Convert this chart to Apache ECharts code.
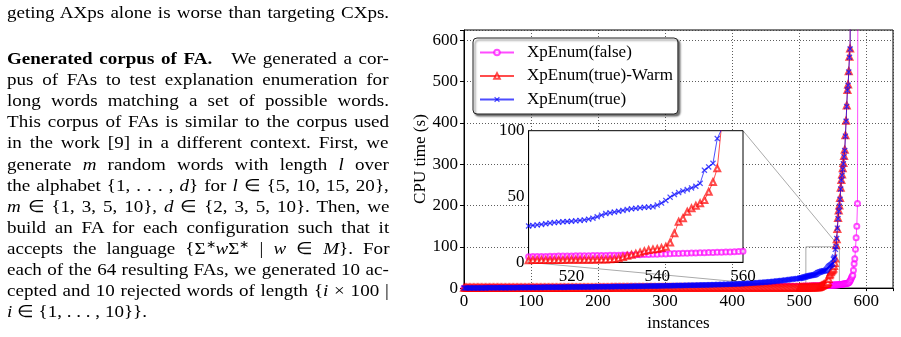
<!DOCTYPE html>
<html>
<head>
<meta charset="utf-8">
<script src="https://cdn.jsdelivr.net/npm/echarts@6.0.0/dist/echarts.min.js"></script>
<style>
  html, body { margin: 0; padding: 0; background: #fff; }
  #page { position: relative; width: 901px; height: 337px; overflow: hidden; }
  #chart { position: absolute; left: 0; top: 0; width: 901px; height: 337px; }
  .ln { position: absolute; left: 7px; white-space: nowrap; font-family: 'Liberation Serif', 'Times New Roman', serif;
        font-size: 17px; line-height: 20px; color: #000; transform-origin: 0 0; transform: scaleX(1.12); }
  .ln sup { font-size: 11px; line-height: 0; vertical-align: 6px; }
</style>
</head>
<body>
<div id="page">
  <div id="chart"></div>
  <div class="ln j" style="top:3px">geting AXps alone is worse than targeting CXps.</div>
  <div class="ln j" style="top:49px"><b>Generated corpus of FA.</b>&emsp;We generated a cor-</div>
  <div class="ln j" style="top:70px">pus of FAs to test explanation enumeration for</div>
  <div class="ln j" style="top:91px">long words matching a set of possible words.</div>
  <div class="ln j" style="top:112px">This corpus of FAs is similar to the corpus used</div>
  <div class="ln j" style="top:133px">in the work [9] in a different context. First, we</div>
  <div class="ln j" style="top:154.5px">generate <i>m</i> random words with length <i>l</i> over</div>
  <div class="ln j" style="top:175.5px">the alphabet {1, . . . , <i>d</i>} for <i>l</i> ∈ {5, 10, 15, 20},</div>
  <div class="ln j" style="top:196.5px"><i>m</i> ∈ {1, 3, 5, 10}, <i>d</i> ∈ {2, 3, 5, 10}. Then, we</div>
  <div class="ln j" style="top:217.5px">build an FA for each configuration such that it</div>
  <div class="ln j" style="top:238.5px">accepts the language {Σ<sup>∗</sup><i>w</i>Σ<sup>∗</sup> | <i>w</i> ∈ <i>M</i>}. For</div>
  <div class="ln j" style="top:260px">each of the 64 resulting FAs, we generated 10 ac-</div>
  <div class="ln j" style="top:281px">cepted and 10 rejected words of length {<i>i</i> × 100 |</div>
  <div class="ln" style="top:302px"><i>i</i> ∈ {1, . . . , 10}}.</div>
</div>
<script>
// instance positions: every 2nd one in the flat part, one by one near the knee
const instances = [
  0, 2, 4, 6, 8, 10, 12, 14, 16, 18, 20, 22, 24, 26, 28, 30, 32, 34, 36, 38, 40, 42, 44, 46, 48,
  50, 52, 54, 56, 58, 60, 62, 64, 66, 68, 70, 72, 74, 76, 78, 80, 82, 84, 86, 88, 90, 92, 94, 96, 98,
  100, 102, 104, 106, 108, 110, 112, 114, 116, 118, 120, 122, 124, 126, 128, 130, 132, 134, 136, 138, 140, 142, 144, 146, 148,
  150, 152, 154, 156, 158, 160, 162, 164, 166, 168, 170, 172, 174, 176, 178, 180, 182, 184, 186, 188, 190, 192, 194, 196, 198,
  200, 202, 204, 206, 208, 210, 212, 214, 216, 218, 220, 222, 224, 226, 228, 230, 232, 234, 236, 238, 240, 242, 244, 246, 248,
  250, 252, 254, 256, 258, 260, 262, 264, 266, 268, 270, 272, 274, 276, 278, 280, 282, 284, 286, 288, 290, 292, 294, 296, 298,
  300, 302, 304, 306, 308, 310, 312, 314, 316, 318, 320, 322, 324, 326, 328, 330, 332, 334, 336, 338, 340, 342, 344, 346, 348,
  350, 352, 354, 356, 358, 360, 362, 364, 366, 368, 370, 372, 374, 376, 378, 380, 382, 384, 386, 388, 390, 392, 394, 396, 398,
  400, 402, 404, 406, 408, 410, 412, 414, 416, 418, 420, 422, 424, 426, 428, 430, 432, 434, 436, 438, 440, 442, 444, 446, 448,
  450, 452, 454, 456, 458, 460, 462, 464, 466, 468, 470, 472, 474, 476, 478, 480, 482, 484, 486, 488, 490, 492, 494, 496, 498,
  500, 501, 502, 503, 504, 505, 506, 507, 508, 509,
  510, 511, 512, 513, 514, 515, 516, 517, 518, 519,
  520, 521, 522, 523, 524, 525, 526, 527, 528, 529,
  530, 531, 532, 533, 534, 535, 536, 537, 538, 539,
  540, 541, 542, 543, 544, 545, 546, 547, 548, 549,
  550, 551, 552, 553, 554, 555, 556, 557, 558, 559,
  560, 561, 562, 563, 564, 565, 566, 567, 568, 569,
  570, 571, 572, 573, 574, 575, 576, 577, 578, 579,
  580, 581, 582, 583, 584, 585, 586, 587, 588, 589, 590
];

// CPU time (s) of each run, sorted (XpEnum(false))
const falseTimes = [
  0.3, 0.3, 0.3, 0.3, 0.4, 0.4, 0.4, 0.4, 0.4, 0.5, 0.5, 0.5, 0.5, 0.5, 0.5, 0.6, 0.6, 0.6, 0.6, 0.6, 0.6, 0.7, 0.7, 0.7, 0.7,
  0.7, 0.7, 0.7, 0.8, 0.8, 0.8, 0.8, 0.8, 0.8, 0.8, 0.9, 0.9, 0.9, 0.9, 0.9, 0.9, 0.9, 0.9, 1.0, 1.0, 1.0, 1.0, 1.0, 1.0, 1.0,
  1.0, 1.0, 1.1, 1.1, 1.1, 1.1, 1.1, 1.1, 1.2, 1.2, 1.2, 1.2, 1.2, 1.2, 1.3, 1.3, 1.3, 1.3, 1.3, 1.3, 1.4, 1.4, 1.4, 1.4, 1.4,
  1.5, 1.5, 1.5, 1.5, 1.5, 1.5, 1.5, 1.6, 1.6, 1.6, 1.6, 1.6, 1.6, 1.6, 1.6, 1.7, 1.7, 1.7, 1.7, 1.7, 1.7, 1.7, 1.7, 1.7, 1.7,
  1.7, 1.7, 1.8, 1.8, 1.8, 1.8, 1.8, 1.8, 1.8, 1.9, 1.9, 1.9, 1.9, 1.9, 1.9, 1.9, 2.0, 2.0, 2.0, 2.0, 2.0, 2.0, 2.0, 2.1, 2.1,
  2.1, 2.1, 2.1, 2.1, 2.1, 2.2, 2.2, 2.2, 2.2, 2.2, 2.2, 2.2, 2.3, 2.3, 2.3, 2.3, 2.3, 2.3, 2.3, 2.3, 2.3, 2.3, 2.3, 2.3, 2.3,
  2.4, 2.4, 2.4, 2.4, 2.4, 2.4, 2.4, 2.5, 2.5, 2.5, 2.5, 2.5, 2.5, 2.5, 2.6, 2.6, 2.6, 2.6, 2.6, 2.6, 2.6, 2.7, 2.7, 2.7, 2.7,
  2.7, 2.7, 2.7, 2.7, 2.8, 2.8, 2.8, 2.8, 2.8, 2.8, 2.8, 2.9, 2.9, 2.9, 2.9, 2.9, 2.9, 2.9, 3.0, 3.0, 3.0, 3.0, 3.0, 3.0, 3.0,
  3.0, 3.0, 3.1, 3.1, 3.1, 3.1, 3.1, 3.1, 3.2, 3.2, 3.2, 3.2, 3.2, 3.2, 3.3, 3.3, 3.3, 3.3, 3.3, 3.3, 3.3, 3.4, 3.4, 3.4, 3.4,
  3.4, 3.4, 3.4, 3.5, 3.5, 3.5, 3.5, 3.6, 3.6, 3.6, 3.6, 3.7, 3.7, 3.7, 3.7, 3.8, 3.8, 3.8, 3.8, 3.9, 3.9, 3.9, 3.9, 4.0, 4.0,
  4.0, 4.0, 4.0, 4.1, 4.1, 4.1, 4.2, 4.2, 4.2, 4.3,
  4.3, 4.4, 4.4, 4.5, 4.5, 4.6, 4.6, 4.7, 4.7, 4.8,
  4.8, 4.9, 4.9, 5.0, 5.0, 5.1, 5.1, 5.2, 5.2, 5.3,
  5.3, 5.4, 5.5, 5.5, 5.6, 5.7, 5.8, 5.9, 6.0, 6.1,
  6.2, 6.3, 6.4, 6.5, 6.6, 6.7, 6.8, 6.9, 7.0, 7.1,
  7.2, 7.3, 7.4, 7.5, 7.6, 7.7, 7.8, 7.9, 8.0, 8.2,
  8.4, 8.6, 8.8, 9.0, 9.2, 9.4, 9.7, 10.0, 10.3, 10.6,
  10.9, 11.2, 11.6, 12.2, 13.2, 15.0, 17.5, 21.0, 25.0, 28.0,
  31, 43, 59, 71, 94, 122, 150, 205, 1000
];
// XpEnum(true)-Warm
const warmTimes = [
  0.8, 0.8, 0.8, 0.8, 0.8, 0.8, 0.8, 0.8, 0.8, 0.8, 0.9, 0.9, 0.9, 0.9, 0.9, 0.9, 0.9, 0.9, 0.9, 0.9, 0.9, 0.9, 0.9, 0.9, 0.9,
  1.0, 1.0, 1.0, 1.0, 1.0, 1.0, 1.0, 1.0, 1.0, 1.0, 1.0, 1.0, 1.0, 1.0, 1.0, 1.0, 1.0, 1.0, 1.0, 1.0, 1.0, 1.0, 1.0, 1.0, 1.0,
  1.0, 1.0, 1.0, 1.0, 1.0, 1.0, 1.0, 1.0, 1.0, 1.0, 1.1, 1.1, 1.1, 1.1, 1.1, 1.1, 1.1, 1.1, 1.1, 1.1, 1.1, 1.1, 1.1, 1.1, 1.1,
  1.1, 1.1, 1.1, 1.1, 1.1, 1.1, 1.1, 1.1, 1.1, 1.1, 1.1, 1.1, 1.1, 1.1, 1.1, 1.1, 1.1, 1.1, 1.1, 1.1, 1.1, 1.1, 1.1, 1.1, 1.1,
  1.1, 1.1, 1.1, 1.1, 1.1, 1.1, 1.1, 1.1, 1.1, 1.1, 1.2, 1.2, 1.2, 1.2, 1.2, 1.2, 1.2, 1.2, 1.2, 1.2, 1.2, 1.2, 1.2, 1.2, 1.2,
  1.2, 1.2, 1.2, 1.2, 1.2, 1.2, 1.2, 1.2, 1.2, 1.2, 1.2, 1.2, 1.2, 1.2, 1.2, 1.2, 1.2, 1.2, 1.2, 1.2, 1.2, 1.2, 1.2, 1.2, 1.2,
  1.2, 1.2, 1.2, 1.2, 1.2, 1.2, 1.2, 1.2, 1.2, 1.2, 1.3, 1.3, 1.3, 1.3, 1.3, 1.3, 1.3, 1.3, 1.3, 1.3, 1.3, 1.3, 1.3, 1.3, 1.3,
  1.3, 1.3, 1.3, 1.3, 1.3, 1.3, 1.3, 1.3, 1.3, 1.3, 1.3, 1.3, 1.3, 1.3, 1.3, 1.3, 1.3, 1.3, 1.3, 1.3, 1.3, 1.3, 1.3, 1.3, 1.3,
  1.3, 1.3, 1.3, 1.3, 1.3, 1.3, 1.3, 1.3, 1.3, 1.3, 1.3, 1.3, 1.4, 1.4, 1.4, 1.4, 1.4, 1.4, 1.4, 1.4, 1.4, 1.4, 1.4, 1.4, 1.4,
  1.4, 1.4, 1.4, 1.4, 1.4, 1.4, 1.4, 1.4, 1.4, 1.4, 1.4, 1.4, 1.5, 1.5, 1.5, 1.5, 1.5, 1.5, 1.5, 1.5, 1.5, 1.5, 1.5, 1.5, 1.5,
  1.5, 1.5, 1.5, 1.5, 1.5, 1.5, 1.6, 1.6, 1.6, 1.6,
  1.6, 1.7, 1.7, 1.7, 1.7, 1.8, 1.8, 1.8, 1.8, 1.9,
  1.9, 1.9, 1.9, 2.0, 2.0, 2.0, 2.1, 2.1, 2.2, 2.3,
  2.5, 3.0, 4.0, 5.0, 5.8, 6.6, 7.4, 8.5, 9.3, 9.8,
  10.2, 10.8, 11.9, 15.0, 22.0, 30.9, 33.5, 38.5, 41.0, 43.0,
  44.8, 47.3, 53.6, 61.0, 71.4, 104, 118, 143, 170, 188,
  200, 218, 243, 262, 275, 290, 303, 320, 335, 370,
  405, 442, 480, 493, 525, 560, 580, 950
];
// XpEnum(true)
const trueTimes = [
  0.2, 0.2, 0.3, 0.3, 0.3, 0.3, 0.3, 0.4, 0.4, 0.4, 0.4, 0.4, 0.5, 0.5, 0.5, 0.5, 0.5, 0.6, 0.6, 0.6, 0.6, 0.7, 0.7, 0.7, 0.7,
  0.8, 0.8, 0.8, 0.8, 0.9, 0.9, 0.9, 0.9, 1.0, 1.0, 1.0, 1.0, 1.1, 1.1, 1.1, 1.1, 1.2, 1.2, 1.2, 1.3, 1.3, 1.3, 1.4, 1.4, 1.4,
  1.5, 1.5, 1.5, 1.6, 1.6, 1.6, 1.7, 1.7, 1.7, 1.8, 1.8, 1.8, 1.8, 1.9, 1.9, 1.9, 2.0, 2.0, 2.0, 2.1, 2.1, 2.1, 2.2, 2.2, 2.2,
  2.3, 2.3, 2.3, 2.4, 2.4, 2.4, 2.5, 2.5, 2.5, 2.6, 2.6, 2.6, 2.7, 2.7, 2.7, 2.8, 2.8, 2.8, 2.8, 2.9, 2.9, 2.9, 3.0, 3.0, 3.0,
  3.1, 3.1, 3.2, 3.2, 3.2, 3.3, 3.3, 3.4, 3.4, 3.4, 3.5, 3.5, 3.6, 3.6, 3.6, 3.7, 3.7, 3.8, 3.8, 3.8, 3.9, 3.9, 4.0, 4.0, 4.1,
  4.2, 4.2, 4.3, 4.3, 4.4, 4.4, 4.5, 4.5, 4.6, 4.6, 4.7, 4.7, 4.8, 4.8, 4.9, 4.9, 5.0, 5.0, 5.1, 5.1, 5.2, 5.2, 5.3, 5.4, 5.4,
  5.5, 5.6, 5.6, 5.7, 5.8, 5.8, 5.9, 6.0, 6.0, 6.1, 6.2, 6.2, 6.3, 6.4, 6.4, 6.5, 6.6, 6.6, 6.7, 6.8, 6.9, 6.9, 7.0, 7.1, 7.2,
  7.3, 7.4, 7.4, 7.5, 7.6, 7.7, 7.8, 7.8, 7.9, 8.0, 8.1, 8.2, 8.3, 8.4, 8.5, 8.6, 8.7, 8.8, 8.9, 9.0, 9.1, 9.2, 9.3, 9.4, 9.5,
  9.5, 9.7, 9.8, 9.9, 10.1, 10.2, 10.4, 10.5, 10.7, 10.9, 11.1, 11.3, 11.5, 11.7, 11.9, 12.1, 12.3, 12.5, 12.7, 12.9, 13.2, 13.4, 13.7, 13.9, 14.2,
  14.4, 14.7, 15.0, 15.3, 15.6, 15.9, 16.2, 16.5, 16.9, 17.2, 17.6, 17.9, 18.3, 18.7, 19.1, 19.5, 19.9, 20.3, 20.8, 21.2, 21.7, 22.1, 22.5, 22.9, 23.1,
  23.3, 23.7, 24.1, 24.5, 24.9, 25.3, 25.7, 26.1, 26.6, 27.1,
  27.6, 28.0, 28.4, 28.8, 29.3, 29.8, 30.2, 30.5, 30.8, 31.0,
  31.2, 31.5, 31.8, 32.2, 32.8, 33.5, 34.6, 35.8, 37.0, 37.6,
  38.2, 38.8, 39.4, 40.2, 40.6, 41.0, 41.4, 41.8, 42.0, 42.3,
  43.5, 45.0, 47.0, 49.5, 51.5, 53.0, 54.2, 55.3, 56.5, 57.8,
  60.0, 70.0, 72.5, 75.2, 94.0, 101, 120, 145, 168, 186,
  198, 215, 240, 261, 273, 288, 301, 318, 333, 368,
  404, 440, 479, 491, 523, 559, 579, 950
];

const seriesNames = ['XpEnum(false)', 'XpEnum(true)-Warm', 'XpEnum(true)'];
const seriesValues = [falseTimes, warmTimes, trueTimes];

// zoomed window shown in the inset
const zoomX = [510, 560];
const zoomY = [0, 100];

const FONT = 'Liberation Serif';
const colors = ['#ff00ff', '#ff0000', '#0000ff'];
const crossPath = 'path://M0,1.5L1.5,0L5,3.5L8.5,0L10,1.5L6.5,5L10,8.5L8.5,10L5,6.5L1.5,10L0,8.5L3.5,5Z';
const symbols = ['emptyCircle', 'emptyTriangle', crossPath];
const symbolSizes = [5, 6, 6];
const symbolBorders = [1, 1, 0];

function pairs(values) {
  return values.map((v, i) => [instances[i], v]);
}

const labelStyle = { color: '#000', fontSize: 17, fontFamily: FONT };
const dotted = { color: '#333', width: 0.8, type: [1, 2] };

const series = [];
[0, 1].forEach(g => {
  seriesNames.forEach((name, k) => {
    const s = {
      name: name,
      type: 'line',
      xAxisIndex: g,
      yAxisIndex: g,
      data: pairs(seriesValues[k]),
      symbol: symbols[k],
      symbolSize: symbolSizes[k],
      showAllSymbol: true,
      clip: true,
      silent: true,
      z: (g === 0 ? 2 : 6) + k,
      lineStyle: { color: colors[k], width: 1, opacity: 0.7 },
      itemStyle: { color: colors[k], borderColor: colors[k], borderWidth: symbolBorders[k], opacity: 0.7 },
      emphasis: { disabled: true }
    };
    if (g === 0 && k === 0) {
      s.markArea = {
        silent: true,
        itemStyle: { color: 'rgba(0,0,0,0)', borderColor: '#aaa', borderWidth: 1 },
        data: [[{ coord: [zoomX[0], zoomY[0]] }, { coord: [zoomX[1], zoomY[1]] }]]
      };
    }
    series.push(s);
  });
});

const chart = echarts.init(document.getElementById('chart'));
chart.setOption({
  animation: false,
  textStyle: { fontFamily: FONT },
  legend: {
    orient: 'vertical',
    left: 473,
    top: 38,
    backgroundColor: '#fff',
    borderColor: '#222',
    borderWidth: 1,
    borderRadius: 4,
    shadowColor: 'rgba(0,0,0,0.55)',
    shadowBlur: 2,
    shadowOffsetX: 2,
    shadowOffsetY: 2,
    padding: [6, 5, 6, 6],
    itemGap: 6.5,
    itemWidth: 34,
    itemHeight: 7,
    z: 10,
    textStyle: { color: '#000', fontSize: 17, fontFamily: FONT, padding: [0, 0, 0, 8] },
    data: seriesNames
  },
  grid: [
    { left: 464, top: 30, width: 429, height: 263, show: true, borderColor: '#000', borderWidth: 1,
      backgroundColor: 'rgba(0,0,0,0)', z: 0 },
    { left: 528.6, top: 130.7, width: 214.4, height: 131.6, show: true, borderColor: '#000', borderWidth: 1,
      backgroundColor: '#fff', z: 4 }
  ],
  xAxis: [
    { gridIndex: 0, type: 'value', min: 0, max: 640, interval: 100, z: 1,
      name: 'instances', nameLocation: 'middle', nameGap: 24,
      nameTextStyle: labelStyle,
      axisLine: { lineStyle: { color: '#000', width: 1 } },
      axisTick: { show: true, length: 3, lineStyle: { color: '#000' } },
      axisLabel: Object.assign({ margin: 5, formatter: v => (v % 100 === 0 ? String(v) : '') }, labelStyle),
      splitLine: { show: true, lineStyle: dotted } },
    { gridIndex: 1, type: 'value', min: zoomX[0], max: zoomX[1], interval: 10, z: 5,
      axisLine: { lineStyle: { color: '#000', width: 1 } },
      axisTick: { show: false },
      axisLabel: Object.assign({ margin: 6, formatter: v => (v % 20 === 0 ? String(v) : '') }, labelStyle),
      splitLine: { show: false } }
  ],
  yAxis: [
    { gridIndex: 0, type: 'value', min: 0, max: 625, interval: 100, z: 1,
      name: 'CPU time (s)', nameLocation: 'middle', nameGap: 34, nameRotate: 90,
      nameTextStyle: labelStyle,
      axisLine: { show: true, lineStyle: { color: '#000', width: 1 } },
      axisTick: { show: true, length: 4, lineStyle: { color: '#000' } },
      axisLabel: Object.assign({ margin: 6, formatter: v => (v % 100 === 0 ? String(v) : '') }, labelStyle),
      splitLine: { show: true, lineStyle: dotted } },
    { gridIndex: 1, type: 'value', min: zoomY[0], max: zoomY[1], interval: 50, z: 5,
      axisLine: { show: true, lineStyle: { color: '#000', width: 1 } },
      axisTick: { show: false },
      axisLabel: Object.assign({ margin: 4 }, labelStyle),
      splitLine: { show: false } }
  ],
  series: series
});

// connector lines between the zoom window and the inset
const insetTR = chart.convertToPixel({ gridIndex: 1 }, [zoomX[1], zoomY[1]]);
const mainTR = chart.convertToPixel({ gridIndex: 0 }, [zoomX[1], zoomY[1]]);
const insetBL = chart.convertToPixel({ gridIndex: 1 }, [zoomX[0], zoomY[0]]);
const mainBL = chart.convertToPixel({ gridIndex: 0 }, [zoomX[0], zoomY[0]]);
chart.setOption({
  graphic: [
    { type: 'line', z: 1, silent: true, shape: { x1: insetTR[0], y1: insetTR[1], x2: mainTR[0], y2: mainTR[1] },
      style: { stroke: '#aaa', lineWidth: 1 } },
    { type: 'line', z: 1, silent: true, shape: { x1: insetBL[0], y1: insetBL[1], x2: mainBL[0], y2: mainBL[1] },
      style: { stroke: '#aaa', lineWidth: 1 } }
  ]
});

// justify the text lines of the left column
const textWidth = 382;
const textScale = 1.12;
document.querySelectorAll('.ln.j').forEach(el => {
  const natural = el.offsetWidth;
  const gaps = (el.textContent.match(/ /g) || []).length;
  if (gaps) el.style.wordSpacing = ((textWidth / textScale - natural) / gaps) + 'px';
});
</script>
</body>
</html>
